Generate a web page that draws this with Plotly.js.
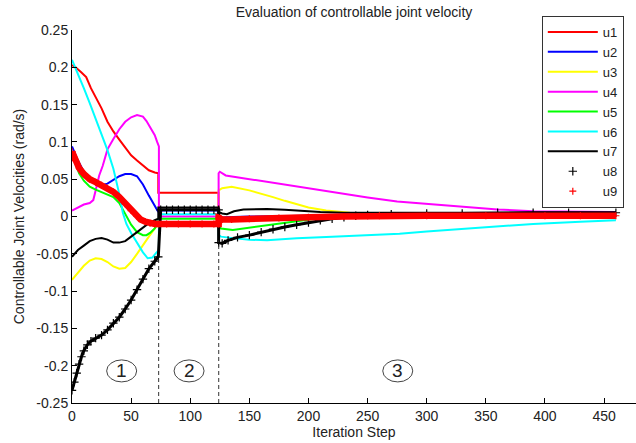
<!DOCTYPE html>
<html>
<head>
<meta charset="utf-8">
<script src="https://cdn.plot.ly/plotly-3.0.1.min.js"></script>
<style>html,body{margin:0;padding:0;background:#fff;}#chart{width:636px;height:443px;}</style>
</head>
<body>
<div id="chart"></div>
<script>
// ---- data ----
const seriesNames = ['u1','u2','u3','u4','u5','u6','u7','u8','u9'];

const u1X = [0,3,8,12,16,20,25,30,35,40,45,50,55,60,65,70,73, 73,124, 124,128,135,150,175,200,250,300,350,400,460];
const u1Y = [0.203,0.200,0.193,0.187,0.172,0.160,0.145,0.127,0.114,0.103,0.092,0.082,0.075,0.068,0.062,0.059,0.058, 0.032,0.032, 0.003,-0.002,-0.004,-0.003,-0.002,-0.001,0.000,0.001,0.001,0.001,0.001];

const u2X = [0,5,10,15,20,25,30,35,40,45,50,55,60,65,70,73, 73,124, 124,130,150,175,200,250,300,400,460];
const u2Y = [0.094,0.075,0.060,0.050,0.044,0.042,0.044,0.049,0.054,0.057,0.057,0.054,0.043,0.028,0.015,0.006, 0.008,0.008, -0.002,-0.001,0.000,0.000,0.001,0.002,0.002,0.002,0.002];

const u3X = [0,5,10,15,20,25,30,35,40,45,50,55,60,65,70,73, 73,124, 124,127,135,150,160,170,180,190,200,215,235,250,300,350,400,460];
const u3Y = [-0.085,-0.075,-0.066,-0.059,-0.056,-0.057,-0.061,-0.067,-0.070,-0.069,-0.061,-0.050,-0.038,-0.027,-0.016,-0.009, -0.008,-0.008, 0.035,0.038,0.040,0.035,0.031,0.026,0.021,0.016,0.012,0.008,0.005,0.004,0.003,0.003,0.003,0.003];

const u4X = [0,5,10,15,18,20,23,26,30,35,40,45,50,55,60,63,66,70,72,73.5, 73.5,124, 124,125,130,150,175,200,225,250,275,300,330,360,390,430,460];
const u4Y = [0.008,0.012,0.016,0.018,0.022,0.035,0.055,0.068,0.090,0.104,0.117,0.127,0.133,0.136,0.134,0.128,0.120,0.109,0.100,0.094, 0.000,0.000, 0.058,0.060,0.055,0.050,0.044,0.037,0.031,0.0255,0.020,0.017,0.013,0.0095,0.007,0.006,0.006];

const u5X = [0,3,6,10,15,20,25,30,35,40,43,46,50,55,60,63,66,70,73, 73,124, 124,126,136,150,165,180,195,210,220,250,300,350,400,460];
const u5Y = [0.085,0.070,0.058,0.048,0.040,0.036,0.033,0.030,0.026,0.018,0.009,0.000,-0.011,-0.021,-0.025,-0.025,-0.022,-0.016,-0.009, -0.003,-0.003, -0.013,-0.016,-0.018,-0.015,-0.011,-0.008,-0.005,-0.002,0.000,0.003,0.004,0.004,0.004,0.004];

const u6X = [0,5,10,15,20,25,30,35,40,43,46,50,55,60,64,68,71,73.5, 73.5,124, 124,126,136,150,165,190,220,250,277,300,334,360,390,430,460];
const u6Y = [0.210,0.192,0.172,0.152,0.131,0.110,0.089,0.064,0.030,0.005,-0.010,-0.022,-0.035,-0.048,-0.056,-0.055,-0.049,-0.045, 0.003,0.003, -0.025,-0.027,-0.029,-0.031,-0.032,-0.029,-0.027,-0.025,-0.023,-0.020,-0.016,-0.013,-0.010,-0.007,-0.005];

const u7X = [0,5,10,15,20,25,30,35,40,45,50,55,60,65,70,73, 73,124, 124,127,131,137,145,155,165,180,195,210,230,260,300,350,400,460];
const u7Y = [-0.054,-0.045,-0.039,-0.033,-0.030,-0.029,-0.031,-0.035,-0.035,-0.033,-0.027,-0.021,-0.014,-0.009,-0.005,-0.003, 0.012,0.012, 0.006,0.004,0.003,0.007,0.0095,0.010,0.010,0.009,0.007,0.006,0.005,0.005,0.005,0.005,0.005,0.005];

const u8X = [0,2,4,6,8,10,13,16,20,25,30,35,40,45,50,55,60,65,70,73, 75,80,85,90,95,100,105,110,115,120,124, 124,127,132,140,150,160,170,180,190,200,210,220,230,240,250,270,300,330,360,390,420,460];
const u8Y = [-0.233,-0.222,-0.210,-0.198,-0.188,-0.180,-0.172,-0.167,-0.163,-0.159,-0.152,-0.143,-0.135,-0.124,-0.112,-0.098,-0.084,-0.070,-0.060,-0.054, 0.009,0.009,0.009,0.009,0.009,0.009,0.009,0.009,0.009,0.009,0.009, -0.035,-0.036,-0.032,-0.028,-0.025,-0.021,-0.017,-0.014,-0.011,-0.008,-0.005,-0.003,-0.001,0.001,0.002,0.003,0.004,0.004,0.005,0.005,0.005,0.005,0.005];

const u9X = [0,3,6,10,15,20,25,30,35,40,45,50,55,58,62,66,70,73, 80,90,100,110,120,124, 124,127,135,150,175,200,230,260,300,350,400,430,460];
const u9Y = [0.087,0.075,0.065,0.057,0.050,0.046,0.042,0.038,0.033,0.026,0.017,0.008,0.000,-0.004,-0.007,-0.009,-0.010,-0.010, -0.010,-0.010,-0.010,-0.010,-0.010,-0.010, -0.002,-0.004,-0.004,-0.003,-0.002,-0.001,0.000,0.001,0.001,0.001,0.001,0.001,0.001];

const xTicks = [0,50,100,150,200,250,300,350,400,450];
const yTicks = [-0.25,-0.2,-0.15,-0.1,-0.05,0,0.05,0.1,0.15,0.2,0.25];
const yTickText = ['-0.25','-0.2','-0.15','-0.1','-0.05','0','0.05','0.1','0.15','0.2','0.25'];
const phaseLabels = ['1','2','3'];
const phaseLabelX = [42,99,275.5];
const phaseBoundX = [73.3,124.1];
const phaseBoundTop = [-0.054,-0.032];

// ---- styles ----
const colors = ['#ff0000','#0000ff','#ffff00','#ff00ff','#00ff00','#00ffff','#000000','#000000','#ff0000'];
const xs = [u1X,u2X,u3X,u4X,u5X,u6X,u7X,u8X,u9X];
const ys = [u1Y,u2Y,u3Y,u4Y,u5Y,u6Y,u7Y,u8Y,u9Y];

const traces = [];
for (let i = 0; i < 7; i++) {
  traces.push({x: xs[i], y: ys[i], name: seriesNames[i], type: 'scatter', mode: 'lines',
    line: {color: colors[i], width: 2}});
}
// u8 / u9 : dense '+' markers (thick trail under them)
const trailWidth = [3, 6.5];
const markerSize = [6, 5];
for (let k = 0; k < 2; k++) {
  const i = 7 + k;
  traces.push({x: xs[i], y: ys[i], type: 'scatter', mode: 'lines', showlegend: false,
    hoverinfo: 'skip', legendgroup: seriesNames[i], line: {color: colors[i], width: trailWidth[k]}});
  traces.push({x: xs[i], y: ys[i], name: seriesNames[i], type: 'scatter', mode: 'markers',
    legendgroup: seriesNames[i],
    marker: {symbol: 'cross-thin', size: markerSize[k], color: colors[i], line: {color: colors[i], width: 1.2}}});
}

const shapes = [];
phaseBoundX.forEach((bx, j) => {
  shapes.push({type: 'line', xref: 'x', yref: 'y', x0: bx, x1: bx, y0: -0.25, y1: phaseBoundTop[j],
    line: {color: '#333', width: 1, dash: '4px,3px'}});
});
phaseLabelX.forEach(cx => {
  shapes.push({type: 'circle', xref: 'x', yref: 'y', xsizemode: 'pixel', ysizemode: 'pixel',
    xanchor: cx, yanchor: -0.207, x0: -15, x1: 15, y0: -11, y1: 11,
    line: {color: '#444', width: 1}});
});
const annotations = phaseLabels.map((t, j) => ({x: phaseLabelX[j], y: -0.207, xref: 'x', yref: 'y',
  text: t, showarrow: false, font: {family: 'Liberation Sans, Arial, sans-serif', size: 19, color: '#222'}}));

const font = {family: 'Liberation Sans, Arial, sans-serif', size: 14, color: '#222'};
const layout = {
  width: 636, height: 443,
  margin: {l: 72, r: 0, t: 30, b: 40},
  paper_bgcolor: '#fff', plot_bgcolor: '#fff',
  font: font,
  showlegend: true,
  title: {text: 'Evaluation of controllable joint velocity', font: {family: font.family, size: 14, color: '#222'},
    xref: 'paper', x: 0.5, xanchor: 'center', yref: 'container', y: 0.972, yanchor: 'middle'},
  xaxis: {range: [0, 477], tickvals: xTicks, ticks: 'inside', ticklen: 5, tickcolor: '#000',
    showline: true, linecolor: '#000', linewidth: 1, showgrid: false, zeroline: false, automargin: false,
    tickfont: font, title: {text: 'Iteration Step', font: font, standoff: 2}},
  yaxis: {range: [-0.25, 0.25], tickvals: yTicks, ticktext: yTickText, ticks: 'inside', ticklen: 5, tickcolor: '#000',
    showline: true, linecolor: '#000', linewidth: 1, showgrid: false, zeroline: false, automargin: false,
    tickfont: font, title: {text: 'Controllable Joint Velocities (rad/s)', font: font, standoff: 8}},
  legend: {x: 0.833, xanchor: 'left', y: 1.0375, yanchor: 'top', bgcolor: '#fff',
    bordercolor: '#333', borderwidth: 1, font: {family: font.family, size: 13, color: '#222'},
    itemwidth: 50, tracegroupgap: 0},
  shapes: shapes,
  annotations: annotations
};

Plotly.newPlot('chart', traces, layout, {displayModeBar: false, staticPlot: true});
</script>
</body>
</html>
